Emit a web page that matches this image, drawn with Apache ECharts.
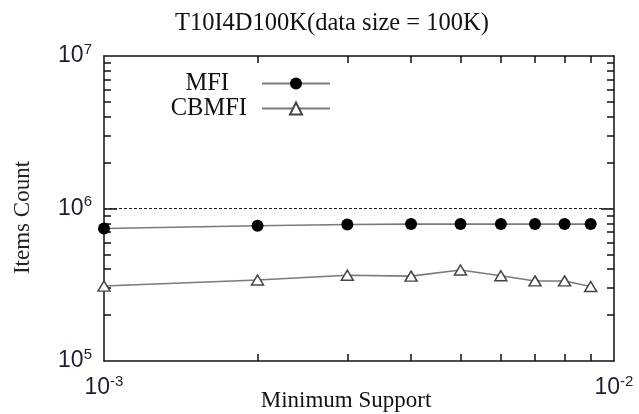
<!DOCTYPE html>
<html>
<head>
<meta charset="utf-8">
<script src="https://cdn.jsdelivr.net/npm/echarts@6/dist/echarts.min.js"></script>
<style>html,body{margin:0;padding:0;background:#fff}#c{width:639px;height:414px}</style>
</head>
<body>
<div id="c"></div>
<script>
const titleText = 'T10I4D100K(data size = 100K)';
const xName = 'Minimum Support';
const yName = 'Items Count';
const seriesNames = ['MFI', 'CBMFI'];
const supportValues = [0.001, 0.002, 0.003, 0.004, 0.005, 0.006, 0.007, 0.008, 0.009];
const mfiCounts = [740000, 770000, 785000, 790000, 790000, 790000, 790000, 790000, 790000];
const cbmfiCounts = [310000, 340000, 365000, 360000, 395000, 362000, 335000, 335000, 308000];
const xMajorTicks = [0.001, 0.01];
const xMinorTicks = [0.002, 0.003, 0.004, 0.005, 0.006, 0.007, 0.008, 0.009];
const yMajorTicks = [100000, 1000000, 10000000];
const yMinorTicks = [200000, 300000, 400000, 500000, 600000, 700000, 800000, 900000,
                     2000000, 3000000, 4000000, 5000000, 6000000, 7000000, 8000000, 9000000];
const yInnerMajor = [1000000];
const gridLineValue = 1000000;

const labelColor = '#1c1f33';
const frameColor = '#111';
const serif = '"Liberation Serif", "DejaVu Serif", serif';
const sans = '"Liberation Sans", Arial, sans-serif';

function expFormatter(v) {
  const e = Math.round(Math.log10(v));
  return '{b|10}{s|' + e + '}';
}
const richLabel = {
  b: { fontSize: 23, fontFamily: sans, color: labelColor },
  s: { fontSize: 15, fontFamily: sans, color: labelColor, padding: [0, 0, 13, 0] }
};

function axisBase(extra) {
  return Object.assign({
    type: 'log', logBase: 10, gridIndex: 0,
    axisLine: { show: true, onZero: false, lineStyle: { color: frameColor, width: 1.5 } },
    splitLine: { show: false },
    minorTick: { show: false },
    minorSplitLine: { show: false }
  }, extra);
}

const chart = echarts.init(document.getElementById('c'), null, { renderer: 'canvas' });
chart.setOption({
  animation: false,
  backgroundColor: '#fff',
  title: {
    text: titleText, left: 170, top: 6,
    textStyle: { fontFamily: serif, fontSize: 24.5, fontWeight: 'normal', color: '#111' }
  },
  grid: { left: 104, right: 25, top: 56, bottom: 53, containLabel: false, outerBoundsMode: 'none' },
  xAxis: [
    axisBase({
      position: 'bottom', min: 0.001, max: 0.01,
      axisTick: { show: true, inside: true, length: 7, customValues: xMinorTicks, lineStyle: { color: frameColor, width: 1.5 } },
      axisLabel: { show: true, customValues: xMajorTicks, formatter: expFormatter, rich: richLabel, margin: 13 },
      name: xName, nameLocation: 'middle', nameGap: 28, nameMoveOverlap: false,
      nameTextStyle: { fontFamily: serif, fontSize: 23, color: '#111', padding: [0, 26, 0, 0] }
    }),
    axisBase({
      position: 'top', min: 0.001, max: 0.01,
      axisTick: { show: true, inside: true, length: 7, customValues: xMinorTicks, lineStyle: { color: frameColor, width: 1.5 } },
      axisLabel: { show: false }
    })
  ],
  yAxis: [
    axisBase({
      position: 'left', min: 100000, max: 10000000,
      axisTick: { show: true, inside: true, length: 7, customValues: yMinorTicks, lineStyle: { color: frameColor, width: 1.5 } },
      axisLabel: { show: true, customValues: yMajorTicks, formatter: expFormatter, rich: richLabel, margin: 12 },
      name: yName, nameLocation: 'middle', nameGap: 70, nameRotate: 90, nameMoveOverlap: false,
      nameTextStyle: { fontFamily: serif, fontSize: 23, color: '#2a2218', padding: [0, 18, 0, 0] }
    }),
    axisBase({
      position: 'right', min: 100000, max: 10000000,
      axisTick: { show: true, inside: true, length: 7, customValues: yMinorTicks, lineStyle: { color: frameColor, width: 1.5 } },
      axisLabel: { show: false }
    }),
    axisBase({
      position: 'left', min: 100000, max: 10000000,
      axisLine: { show: false },
      axisTick: { show: true, inside: true, length: 13, customValues: yInnerMajor, lineStyle: { color: frameColor, width: 1.5 } },
      axisLabel: { show: false }
    }),
    axisBase({
      position: 'right', min: 100000, max: 10000000,
      axisLine: { show: false },
      axisTick: { show: true, inside: true, length: 13, customValues: yInnerMajor, lineStyle: { color: frameColor, width: 1.5 } },
      axisLabel: { show: false }
    })
  ],
  legend: [
    {
      data: [seriesNames[0]], orient: 'vertical', align: 'right',
      right: 303, top: 66, itemWidth: 68, itemHeight: 15,
      textStyle: { fontFamily: serif, fontSize: 24.5, color: '#111', padding: [0, 28, 0, 0] },
      selectedMode: false
    },
    {
      data: [seriesNames[1]], orient: 'vertical', align: 'right',
      right: 303, top: 91, itemWidth: 68, itemHeight: 15,
      textStyle: { fontFamily: serif, fontSize: 24.5, color: '#111', padding: [0, 10, 0, 0] },
      selectedMode: false
    }
  ],
  series: [
    {
      name: seriesNames[0], type: 'line', xAxisIndex: 0, yAxisIndex: 0,
      data: supportValues.map((x, i) => [x, mfiCounts[i]]),
      symbol: 'circle', symbolSize: 12, clip: false,
      lineStyle: { color: '#7a7a7a', width: 1.6 },
      itemStyle: { color: '#000', borderColor: '#000', borderWidth: 0 },
      markLine: {
        silent: true, symbol: 'none', label: { show: false },
        lineStyle: { color: '#222', type: [3, 2], width: 1 },
        data: [{ yAxis: gridLineValue }]
      },
      z: 3
    },
    {
      name: seriesNames[1], type: 'line', xAxisIndex: 0, yAxisIndex: 0,
      data: supportValues.map((x, i) => [x, cbmfiCounts[i]]),
      symbol: 'triangle', symbolSize: [12, 10], clip: false,
      lineStyle: { color: '#7a7a7a', width: 1.6 },
      itemStyle: { color: '#fff', borderColor: '#444', borderWidth: 1.5 },
      z: 3
    }
  ]
});
</script>
</body>
</html>
